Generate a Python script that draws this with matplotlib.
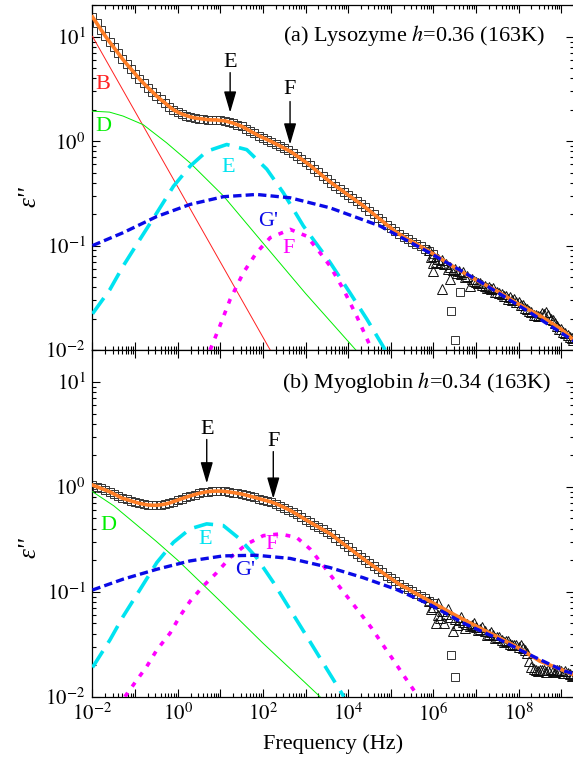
import numpy as np
import matplotlib
matplotlib.use("Agg")
import matplotlib.pyplot as plt
from matplotlib.ticker import LogLocator, FuncFormatter, NullFormatter

# 字体: Times 风格
plt.rcParams['font.family'] = ['Liberation Serif', 'DejaVu Serif']
plt.rcParams['mathtext.fontset'] = 'stix'
plt.rcParams['axes.unicode_minus'] = False
plt.rcParams['lines.scale_dashes'] = False

# ---------------- data (a) Lysozyme ----------------
# measured squares, 10 points per decade from 1e-2 to 1e6 Hz
sq_f = np.logspace(-2, 6, 81)
sq_a = [15.5, 13.5, 11.7, 10.2, 8.95, 7.91, 7.00, 6.17, 5.50, 4.94,
        4.43, 3.96, 3.59, 3.27, 2.99, 2.72, 2.51, 2.33, 2.15, 2.00,
        1.90, 1.82, 1.76, 1.71, 1.67, 1.65, 1.63, 1.61, 1.60, 1.60,
        1.58, 1.57, 1.53, 1.49, 1.44, 1.39, 1.32, 1.25, 1.19, 1.13,
        1.08, 1.035, 0.99, 0.944, 0.90, 0.857, 0.817, 0.771, 0.721, 0.676,
        0.632, 0.589, 0.545, 0.504, 0.466, 0.432, 0.401, 0.374, 0.350, 0.327,
        0.305, 0.286, 0.267, 0.250, 0.233, 0.216, 0.200, 0.185, 0.172, 0.159,
        0.148, 0.137, 0.129, 0.122, 0.115, 0.109, 0.104, 0.0982, 0.0929, 0.0881,
        0.0832]
sq_a_out_logf = [6.63, 6.41, 6.51]
sq_a_out = [0.0359, 0.0236, 0.0125]

# fit beyond the squares
fit_hf_logf = [6.5, 7.0, 7.5, 8.0, 8.5, 9.0, 9.29]
fit_a_hf = [0.0617, 0.0468, 0.0366, 0.0275, 0.0213, 0.0158, 0.0125]

tri_a_logf = [5.9, 6.0, 6.1, 6.2, 6.3, 6.4, 6.5, 6.6, 6.7, 6.8, 6.9, 7.0,
              7.1, 7.2, 7.3, 7.4, 7.5, 7.6, 7.7, 7.8, 7.9, 8.0, 8.1, 8.2,
              8.3, 8.4, 8.5, 8.6, 8.7, 8.8, 8.9, 9.0, 9.1, 9.2, 9.28]
tri_a = [0.090, 0.080, 0.074, 0.072, 0.066, 0.063, 0.060, 0.057, 0.056, 0.051,
         0.048, 0.045, 0.044, 0.041, 0.040, 0.039, 0.036, 0.034, 0.033, 0.032,
         0.031, 0.029, 0.027, 0.0245, 0.023, 0.0215, 0.021, 0.022, 0.0215, 0.0195,
         0.017, 0.0158, 0.0145, 0.0133, 0.0124]
tri_a2_logf = [5.95, 6.0, 6.0, 6.05, 6.15, 6.2, 6.25, 6.35, 6.39, 6.45, 6.55,
               6.65, 6.75, 6.86, 6.95, 7.05, 7.15, 7.25, 7.35, 7.45, 7.55, 7.65,
               7.75, 7.85, 7.95, 8.05, 8.15, 8.25, 8.35, 8.45, 8.55, 8.65, 8.75,
               8.85, 8.95, 9.05, 9.15, 9.25]
tri_a2 = [0.078, 0.057, 0.0686, 0.070, 0.068, 0.038, 0.066, 0.060, 0.0475, 0.058,
          0.055, 0.053, 0.050, 0.041, 0.046, 0.044, 0.042, 0.039, 0.038, 0.036,
          0.035, 0.033, 0.031, 0.030, 0.029, 0.027, 0.025, 0.0235, 0.0215, 0.021,
          0.0225, 0.023, 0.020, 0.018, 0.016, 0.015, 0.014, 0.013]

B_a_logf = [-2.0, 2.17]
B_a = [10.1, 0.01]
D_a_logf = [-2.0, -1.6, -1.28, -0.81, -0.26, 0.29, 1.07, 2.0, 3.0, 4.18]
D_a = [1.94, 1.90, 1.74, 1.44, 0.965, 0.62, 0.30, 0.106, 0.0348, 0.01]
E_a_logf = [-2.0, -1.59, -1.28, -0.885, -0.49, -0.10, 0.29, 0.68, 1.15, 1.62,
            2.09, 2.48, 2.95, 3.575, 4.04, 4.44, 4.87]
E_a = [0.0222, 0.038, 0.0637, 0.115, 0.206, 0.37, 0.576, 0.80, 0.93, 0.83,
       0.54, 0.32, 0.154, 0.069, 0.0354, 0.0197, 0.01]
F_a_logf = [0.76, 0.99, 1.23, 1.54, 1.85, 2.17, 2.64, 3.03, 3.34, 3.575, 3.89,
            4.20, 4.56]
F_a = [0.01, 0.017, 0.0305, 0.055, 0.0855, 0.119, 0.143, 0.123, 0.0855, 0.0637,
       0.038, 0.0211, 0.01]
G_a_logf = [-2.0, -1.28, -0.49, 0.29, 1.07, 1.85, 2.64, 3.575, 4.75, 5.92, 7.1,
            8.27, 9.29]
G_a = [0.100, 0.133, 0.19, 0.248, 0.294, 0.309, 0.287, 0.23, 0.154, 0.085,
       0.045, 0.0228, 0.0122]

# ---------------- data (b) Myoglobin ----------------
sq_b = [1.04, 1.005, 0.968, 0.933, 0.900, 0.857, 0.817, 0.780, 0.759, 0.736,
        0.716, 0.697, 0.684, 0.673, 0.668, 0.668, 0.675, 0.685, 0.701, 0.724,
        0.748, 0.773, 0.798, 0.822, 0.845, 0.867, 0.885, 0.900, 0.908, 0.912,
        0.912, 0.906, 0.895, 0.883, 0.869, 0.855, 0.836, 0.815, 0.794, 0.774,
        0.755, 0.736, 0.716, 0.692, 0.664, 0.635, 0.608, 0.578, 0.547, 0.516,
        0.488, 0.461, 0.437, 0.414, 0.393, 0.373, 0.353, 0.328, 0.305, 0.284,
        0.265, 0.247, 0.230, 0.214, 0.200, 0.187, 0.175, 0.164, 0.153, 0.143,
        0.134, 0.126, 0.118, 0.112, 0.107, 0.101, 0.096, 0.0912, 0.0865, 0.082,
        0.078]
sq_b_out_logf = [6.41, 6.51]
sq_b_out = [0.0249, 0.0155]
fit_b_hf = [0.0603, 0.0472, 0.0373, 0.0292, 0.0218, 0.0182, 0.0162]

tri_b_logf = tri_a_logf
tri_b = [0.082, 0.072, 0.060, 0.066, 0.062, 0.058, 0.055, 0.054, 0.052, 0.049,
         0.048, 0.046, 0.044, 0.042, 0.040, 0.039, 0.037, 0.035, 0.034, 0.032,
         0.031, 0.030, 0.029, 0.026, 0.019, 0.018, 0.0178, 0.0178, 0.018, 0.0176,
         0.0178, 0.0175, 0.0174, 0.0165, 0.016]
tri_b2_logf = [5.95, 6.05, 6.1, 6.15, 6.25, 6.35, 6.47, 6.55, 6.65, 6.75, 6.85,
               6.95, 7.05, 7.15, 7.25, 7.35, 7.45, 7.55, 7.65, 7.75, 7.85, 7.95,
               8.05, 8.15, 8.25, 8.35, 8.45, 8.55, 8.65, 8.75, 8.85, 8.95, 9.05,
               9.15, 9.25]
tri_b2 = [0.068, 0.0503, 0.078, 0.056, 0.050, 0.068, 0.0419, 0.048, 0.057, 0.045,
          0.047, 0.050, 0.043, 0.046, 0.039, 0.041, 0.036, 0.037, 0.033, 0.034,
          0.031, 0.031, 0.031, 0.028, 0.022, 0.0185, 0.0175, 0.018, 0.0172, 0.0185,
          0.0172, 0.018, 0.017, 0.0168, 0.0158]

D_b_logf = [-2.0, -1.5, -1.0, -0.5, 0.0, 1.0, 2.0, 3.0, 3.34]
D_b = [0.90, 0.66, 0.447, 0.302, 0.20, 0.0813, 0.0324, 0.0135, 0.01]
E_b_logf = [-2.0, -1.59, -1.28, -0.885, -0.49, -0.10, 0.29, 0.68, 1.07, 1.46,
            1.85, 2.25, 2.64, 3.03, 3.42, 3.9]
E_b = [0.019, 0.0348, 0.0583, 0.105, 0.19, 0.296, 0.398, 0.444, 0.428, 0.318,
       0.212, 0.122, 0.0676, 0.0375, 0.0207, 0.01]
F_b_logf = [-1.24, -0.96, -0.73, -0.49, -0.18, 0.05, 0.29, 0.60, 0.915, 1.23,
            1.62, 2.01, 2.40, 2.79, 3.11, 3.42, 3.69, 4.0, 4.28, 4.55, 4.79,
            5.06, 5.30, 5.57, 5.62]
F_b = [0.01, 0.0144, 0.0193, 0.0279, 0.0403, 0.0584, 0.0813, 0.1135, 0.152, 0.212,
       0.285, 0.343, 0.356, 0.33, 0.255, 0.177, 0.127, 0.0875, 0.0628, 0.0451,
       0.0323, 0.0224, 0.016, 0.0111, 0.01]
G_b_logf = [-2.0, -1.28, -0.49, 0.29, 1.07, 1.85, 2.64, 3.575, 4.36, 5.14, 5.92,
            6.70, 7.49, 8.27, 9.05, 9.29]
G_b = [0.104, 0.132, 0.164, 0.197, 0.22, 0.223, 0.208, 0.17, 0.136, 0.105,
       0.0755, 0.0504, 0.0361, 0.025, 0.0177, 0.0166]

C_ORANGE = '#ff7f27'
C_BLUE = '#0a0ae6'
C_CYAN = '#00e3f0'
C_MAG = '#ff00ff'
C_GREEN = '#00ee00'
C_RED = '#ff2020'


def f(logf):
    return 10.0 ** np.asarray(logf)


def style_axes(ax, show_xlabels):
    ax.set_xscale('log')
    ax.set_yscale('log')
    ax.set_xlim(1e-2, 10 ** 9.29)
    ax.set_ylim(1e-2, 10 ** 1.305)
    ax.xaxis.set_major_locator(LogLocator(base=10, numticks=30))
    ax.xaxis.set_minor_locator(LogLocator(base=10, subs=np.arange(2, 10), numticks=30))
    ax.yaxis.set_major_locator(LogLocator(base=10, numticks=30))
    ax.yaxis.set_minor_locator(LogLocator(base=10, subs=np.arange(2, 10), numticks=30))
    ax.xaxis.set_minor_formatter(NullFormatter())
    ax.yaxis.set_minor_formatter(NullFormatter())

    def xfmt(v, pos):
        e = int(round(np.log10(v)))
        return r'$10^{%d}$' % e if e % 2 == 0 else ''

    def yfmt(v, pos):
        e = int(round(np.log10(v)))
        return r'$10^{%d}$' % e

    if show_xlabels:
        ax.xaxis.set_major_formatter(FuncFormatter(xfmt))
    else:
        ax.xaxis.set_major_formatter(NullFormatter())
    ax.yaxis.set_major_formatter(FuncFormatter(yfmt))
    ax.tick_params(which='both', direction='in', top=True, right=True,
                   labelsize=15, width=0.8)
    ax.tick_params(which='major', length=5.5, pad=5)
    ax.tick_params(which='minor', length=3)
    for s in ax.spines.values():
        s.set_linewidth(0.9)


def draw_panel(ax, sq, sq_out_logf, sq_out, fit_hf, tri_logf, tri, tri2_logf, tri2,
               comps):
    ax.plot(sq_f, sq, 's', ms=5.5, mfc='none', mec='0.2', mew=0.7, zorder=2)
    ax.plot(f(sq_out_logf), sq_out, 's', ms=5.5, mfc='none', mec='0.2', mew=0.7, zorder=2)
    ax.plot(f(tri_logf), tri, '^', ms=6.5, mfc='none', mec='0.05', mew=0.7, zorder=2)
    ax.plot(f(tri2_logf), tri2, '^', ms=6.5, mfc='none', mec='0.05', mew=0.7, zorder=2)
    fit_x = np.concatenate([sq_f, f(fit_hf_logf)])
    fit_y = np.concatenate([sq, fit_hf])
    ax.plot(fit_x, fit_y, '-', color=C_ORANGE, lw=2.6, zorder=3)
    for logf, vals, kw in comps:
        ax.plot(f(logf), vals, zorder=4, **kw)


fig = plt.figure(figsize=(5.73, 7.69), dpi=100)
ax1 = fig.add_axes([0.1614, 0.5449, 0.8396, 0.4486])
ax2 = fig.add_axes([0.1614, 0.0940, 0.8396, 0.4509])

thin_red = dict(color=C_RED, lw=0.7, ls='-')
thin_green = dict(color=C_GREEN, lw=0.7, ls='-')
cyan_kw = dict(color=C_CYAN, lw=2.6, ls=(0, (14, 7)))
mag_kw = dict(color=C_MAG, lw=2.6, ls=(0, (3.5, 5.5)))
blue_kw = dict(color=C_BLUE, lw=2.4, ls=(0, (6, 3)))

draw_panel(ax1, sq_a, sq_a_out_logf, sq_a_out, fit_a_hf, tri_a_logf, tri_a,
           tri_a2_logf, tri_a2,
           [(B_a_logf, B_a, thin_red), (D_a_logf, D_a, thin_green),
            (E_a_logf, E_a, cyan_kw), (F_a_logf, F_a, mag_kw),
            (G_a_logf, G_a, blue_kw)])
draw_panel(ax2, sq_b, sq_b_out_logf, sq_b_out, fit_b_hf, tri_b_logf, tri_b,
           tri_b2_logf, tri_b2,
           [(D_b_logf, D_b, thin_green), (E_b_logf, E_b, cyan_kw),
            (F_b_logf, F_b, mag_kw), (G_b_logf, G_b, blue_kw)])

style_axes(ax1, False)
style_axes(ax2, True)

# 标题文字
ax1.text(0.396, 0.913, '(a) Lysozyme $h$=0.36 (163K)', transform=ax1.transAxes,
         fontsize=16, ha='left', va='center')
ax2.text(0.394, 0.905, '(b) Myoglobin $h$=0.34 (163K)', transform=ax2.transAxes,
         fontsize=16, ha='left', va='center')

# 组分标签
lab = dict(fontsize=16, ha='center', va='center')
ax1.text(0.0176, 3.49, 'B', color=C_RED, **lab)
ax1.text(0.0176, 1.38, 'D', color=C_GREEN, **lab)
ax1.text(15.1, 0.56, 'E', color=C_CYAN, **lab)
ax1.text(132, 0.17, "G'", color=C_BLUE, **lab)
ax1.text(408, 0.0935, 'F', color=C_MAG, **lab)
ax2.text(0.0236, 0.428, 'D', color=C_GREEN, **lab)
ax2.text(4.37, 0.318, 'E', color=C_CYAN, **lab)
ax2.text(163, 0.285, 'F', color=C_MAG, **lab)
ax2.text(38, 0.158, "G'", color=C_BLUE, **lab)

# 箭头
arrow_kw = dict(arrowstyle='-|>,head_length=1.3,head_width=0.38', color='k',
                lw=1.0, mutation_scale=10, shrinkA=0, shrinkB=0)
for ax, x, tip, tail, ly, name in [(ax1, 17.0, 1.88, 4.54, 5.66, 'E'),
                                   (ax1, 433, 0.93, 2.4, 3.12, 'F'),
                                   (ax2, 4.8, 1.08, 2.83, 3.51, 'E'),
                                   (ax2, 175, 0.772, 2.17, 2.71, 'F')]:
    ax.annotate('', xy=(x, tip), xytext=(x, tail), arrowprops=arrow_kw)
    ax.text(x, ly, name, fontsize=16, ha='center', va='center')

for ax, yc in [(ax1, 0.443), (ax2, 0.43)]:
    ax.text(-0.13, yc, "\u03b5''", transform=ax.transAxes, fontsize=18,
            fontstyle='italic', rotation=90, ha='center', va='center')
ax2.set_xlabel('Frequency (Hz)', fontsize=16, labelpad=6)

fig.savefig('out.png', dpi=100)
